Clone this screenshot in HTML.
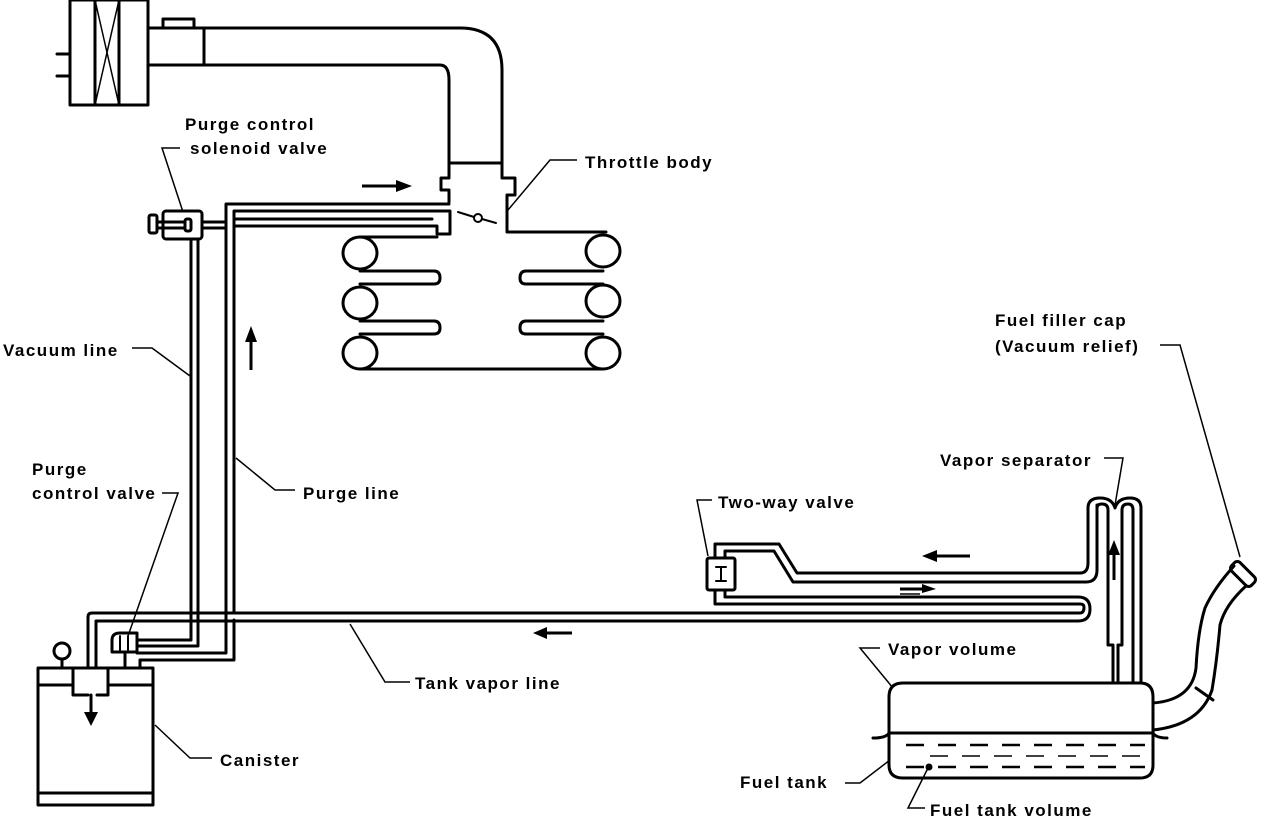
<!DOCTYPE html>
<html><head><meta charset="utf-8"><style>
html,body{margin:0;padding:0;background:#fff;}
svg{display:block}
text{font-family:"Liberation Sans",sans-serif;font-weight:bold;font-size:17px;fill:#000;letter-spacing:1.5px}
</style></head><body>
<svg width="1264" height="818" viewBox="0 0 1264 818" xmlns="http://www.w3.org/2000/svg">
<g fill="none" stroke="#000" stroke-width="3" stroke-linejoin="round" stroke-linecap="round">
<!-- air cleaner -->
<rect x="70" y="0" width="78" height="105"/>
<line x1="95" y1="0" x2="95" y2="105"/><line x1="119" y1="0" x2="119" y2="105"/>
<line x1="95" y1="0" x2="119" y2="105" stroke-width="1.5"/><line x1="119" y1="0" x2="95" y2="105" stroke-width="1.5"/>
<polyline points="57,54 70,54"/><polyline points="57,76 70,76"/>
<polyline points="163,27 163,19 194,19 194,27"/>
<!-- duct -->
<path d="M148,28 H460 Q502,28 502,70 V178 H515 V195 H507 V232 H606"/>
<path d="M148,65 H440 Q449,65 449,80 V178 H441 V190 H449 V202"/>
<line x1="204" y1="28" x2="204" y2="65"/>
<line x1="449" y1="163" x2="502" y2="163"/>
<!-- throttle plate -->
<line x1="458" y1="212" x2="474" y2="217" stroke-width="2"/><line x1="482" y1="219" x2="496" y2="223" stroke-width="2"/>
<circle cx="478" cy="218" r="4" stroke-width="2"/>
<!-- purge line -->
<path d="M226,613 V204 H449"/>
<path d="M234,613 V211 H450 V234 H437 V226 H234"/>
<path d="M234,219 H432"/>
<!-- solenoid -->
<rect x="163" y="211" width="39" height="28" rx="3"/>
<rect x="149" y="215" width="8" height="18" rx="2"/>
<line x1="157" y1="222" x2="185" y2="222"/><line x1="157" y1="228" x2="185" y2="228"/>
<rect x="185" y="219" width="6" height="12" rx="2"/>
<line x1="202" y1="222" x2="226" y2="222"/><line x1="202" y1="228" x2="226" y2="228"/>
<!-- vacuum line -->
<path d="M191,239 V640 H137"/>
<path d="M198,239 V646 H137"/>
<!-- manifold -->
<ellipse cx="360" cy="253" rx="17" ry="16"/>
<ellipse cx="360" cy="303" rx="17" ry="16"/>
<ellipse cx="360" cy="353" rx="17" ry="16"/>
<ellipse cx="603" cy="251" rx="17" ry="16"/>
<ellipse cx="603" cy="301" rx="17" ry="16"/>
<ellipse cx="603" cy="353" rx="17" ry="16"/>
<path d="M360,237 H437"/>
<path d="M360,271 H434 Q440,271 440,278 Q440,284 434,284 H360"/>
<path d="M360,321 H434 Q440,321 440,328 Q440,334 434,334 H360"/>
<path d="M603,271 H526 Q520,271 520,278 Q520,284 526,284 H603"/>
<path d="M603,321 H526 Q520,321 520,328 Q520,334 526,334 H603"/>
<line x1="360" y1="369" x2="603" y2="369"/>
<!-- purge line bottom -->
<path d="M226,613 V653 H137"/>
<path d="M234,620 V660 H140 V668"/>
<!-- purge control valve -->
<path d="M112,652 V640 Q112,633 120,633 H137 V652 Z"/>
<line x1="120" y1="636" x2="120" y2="650" stroke-width="2"/><line x1="128" y1="636" x2="128" y2="650" stroke-width="2"/>
<line x1="125" y1="652" x2="125" y2="668"/>
<!-- tank vapor line -->
<path d="M88,668 V617 Q88,613 92,613 H1080 Q1084,613 1084,607 Q1084,604 1080,604 H715 V590"/>
<path d="M96,668 V621 H1078 Q1090,621 1090,609 Q1090,597 1078,597 H725 V590"/>
<!-- canister -->
<rect x="38" y="668" width="115" height="137"/>
<line x1="38" y1="685" x2="73" y2="685"/><line x1="108" y1="685" x2="153" y2="685"/>
<line x1="38" y1="793" x2="153" y2="793"/>
<polyline points="73,668 73,695 88,695"/><polyline points="97,695 108,695 108,668"/>
<line x1="91" y1="695" x2="91" y2="712"/>
<circle cx="62" cy="651" r="8"/><line x1="62" y1="659" x2="62" y2="668"/>
<!-- two way valve -->
<rect x="707" y="558" width="28" height="32" rx="2"/>
<path d="M715,558 V544 H779 L797,573 H1080 Q1088,573 1088,563 V508"/>
<path d="M725,558 V551 H774 L793,582 H1086 Q1097,582 1097,570 V505"/>
<line x1="716" y1="567" x2="726" y2="567" stroke-width="2"/><line x1="716" y1="581" x2="726" y2="581" stroke-width="2"/><line x1="721" y1="567" x2="721" y2="581" stroke-width="2"/>
<!-- vapor separator -->
<path d="M1088,508 Q1088,498 1100,498 Q1112,498 1115,508 Q1118,498 1130,498 Q1141,498 1141,508 V683"/>
<path d="M1097,508 Q1097,504 1102,504 Q1108,504 1108,510 V645 H1113 V683"/>
<path d="M1133,683 V510 Q1133,504 1128,504 Q1122,504 1122,510 V645 H1118 V683"/>
<!-- tank -->
<path d="M889,733 V697 Q889,683 903,683 H1140 Q1153,683 1153,697 V733 Z"/>
<path d="M889,733 V765 Q889,778 903,778 H1140 Q1153,778 1153,765 V733"/>
<path d="M873,738 Q886,738 889,733"/><path d="M1153,733 Q1156,738 1167,738"/>
<!-- filler neck -->
<path d="M1153,703 Q1192,700 1196,668 Q1198,630 1205,608 Q1214,588 1234,566"/>
<path d="M1153,730 Q1200,725 1212,690 Q1217,660 1220,625 Q1225,605 1246,586"/>
<line x1="1196" y1="688" x2="1213" y2="700"/>
<g transform="rotate(45 1243 574)"><rect x="1229" y="568" width="28" height="12" rx="4"/></g>
</g>
<!-- dashes -->
<g stroke="#000" stroke-width="2.5" stroke-dasharray="18,14">
<line x1="906" y1="745" x2="1145" y2="745"/>
<line x1="930" y1="756" x2="1145" y2="756" stroke-width="1.5"/>
<line x1="906" y1="767" x2="1145" y2="767"/>
</g>
<circle cx="929" cy="767" r="3.5" fill="#000"/>
<!-- arrows -->
<g stroke="#000" stroke-width="3" fill="#000">
<line x1="362" y1="186" x2="398" y2="186"/><polygon points="396,180 412,186 396,192" stroke="none"/>
<line x1="251" y1="370" x2="251" y2="340"/><polygon points="245,342 251,326 257,342" stroke="none"/>
<line x1="91" y1="700" x2="91" y2="712"/><polygon points="84,712 98,712 91,726" stroke="none"/>
<line x1="572" y1="633" x2="545" y2="633"/><polygon points="547,627 533,633 547,639" stroke="none"/>
<line x1="970" y1="556" x2="935" y2="556"/><polygon points="937,550 922,556 937,562" stroke="none"/>
<line x1="900" y1="589" x2="925" y2="589"/><line x1="900" y1="594" x2="920" y2="594" stroke-width="1.5"/><polygon points="922,584 936,589 922,593" stroke="none"/>
<line x1="1114" y1="580" x2="1114" y2="552"/><polygon points="1108,555 1114,540 1120,555" stroke="none"/>
</g>
<!-- leaders -->
<g fill="none" stroke="#000" stroke-width="1.5">
<polyline points="183,212 162,148 180,148"/>
<polyline points="508,210 550,160 577,160"/>
<polyline points="132,348 152,348 190,376"/>
<polyline points="162,493 178,493 128,636"/>
<polyline points="295,490 275,490 236,458"/>
<polyline points="410,682 385,682 350,624"/>
<polyline points="212,758 190,758 155,725"/>
<polyline points="712,500 697,500 708,556"/>
<polyline points="1104,458 1123,458 1115,505"/>
<polyline points="1160,345 1180,345 1240,557"/>
<polyline points="880,648 860,648 893,688"/>
<polyline points="845,783 860,783 890,760"/>
<polyline points="925,808 908,808 928,768"/>
</g>
<!-- labels -->
<text x="185" y="130">Purge control</text>
<text x="190" y="154">solenoid valve</text>
<text x="585" y="168">Throttle body</text>
<text x="3" y="356">Vacuum line</text>
<text x="32" y="475">Purge</text>
<text x="32" y="499">control valve</text>
<text x="303" y="499">Purge line</text>
<text x="415" y="689">Tank vapor line</text>
<text x="220" y="766">Canister</text>
<text x="718" y="508">Two-way valve</text>
<text x="940" y="466">Vapor separator</text>
<text x="995" y="326">Fuel filler cap</text>
<text x="995" y="352">(Vacuum relief)</text>
<text x="888" y="655">Vapor volume</text>
<text x="740" y="788">Fuel tank</text>
<text x="930" y="816">Fuel tank volume</text>
</svg>
</body></html>
